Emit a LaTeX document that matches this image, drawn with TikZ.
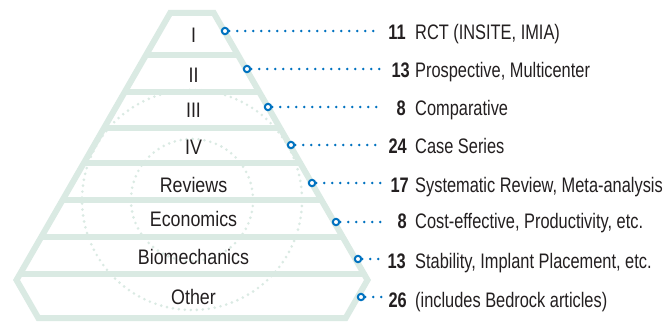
\documentclass[tikz,border=0pt]{standalone}
\usepackage{fontspec}
\newfontfamily\tierfont{Liberation Sans}[FakeStretch=0.85]
\newfontfamily\notefont{Liberation Sans}[FakeStretch=0.78]
\usetikzlibrary{calc}
\definecolor{band}{RGB}{218,234,227}
\definecolor{linkblue}{RGB}{0,114,192}
\definecolor{ink}{RGB}{35,31,32}

\begin{document}
\begin{tikzpicture}[x=1pt,y=-1pt,
  tierlabel/.style={anchor=base, font=\tierfont\fontsize{21}{24}\selectfont, text=ink, inner sep=0pt},
  count/.style={anchor=base east, font=\notefont\bfseries\fontsize{21}{24}\selectfont, text=ink, inner sep=0pt},
  note/.style={anchor=base west, font=\notefont\fontsize{21}{24}\selectfont, text=ink, inner sep=0pt},
  link/.style={draw=linkblue, line width=2.6pt, line cap=round, dash pattern=on 0pt off 8pt},
  ring/.style={circle, draw=linkblue, fill=white, line width=2pt, minimum size=6.4pt, inner sep=0pt},
  ringdots/.style={draw=band, line width=2.9pt, line cap=round, dash pattern=on 0pt off 6pt},
  rim/.style={draw=band, line width=6pt, line join=miter},
  divider/.style={draw=band, line width=6pt}
]
\useasboundingbox[fill=white] (0,0) rectangle (671,321);

% centre line of the pyramid rim
\coordinate (TL) at (170.2,13);
\coordinate (TR) at (213.8,13);
\coordinate (R)  at (367.5,280);
\coordinate (BR) at (345.7,318);
\coordinate (BL) at (38.3,318);
\coordinate (L)  at (16.5,280);

% dotted rings behind the tiers
\coordinate (hub) at (192,200);
\draw[ringdots] (hub) circle[radius=61];
\draw[ringdots] (hub) circle[radius=110];

% tier separators
\begin{scope}
  \clip (TL) -- (TR) -- (R) -- (BR) -- (BL) -- (L) -- cycle;
  \foreach \yy in {55,92,128,163,200,236.5,273.5}
    \draw[divider] (0,\yy) -- (400,\yy);
\end{scope}

% rim
\draw[rim] (TL) -- (TR) -- (R) -- (BR) -- (BL) -- (L) -- cycle;

% tier names
\node[tierlabel] (tI)    at (193.5,43)    {I};
\node[tierlabel] (tII)   at (193.5,82)    {II};
\node[tierlabel] (tIII)  at (193.5,117)   {III};
\node[tierlabel] (tIV)   at (193.5,154)   {IV};
\node[tierlabel] (tRev)  at (193.5,192.5) {Reviews};
\node[tierlabel] (tEco)  at (193.5,226)   {Economics};
\node[tierlabel] (tBio)  at (193.5,264)   {Biomechanics};
\node[tierlabel] (tOth)  at (193.5,304)   {Other};

% markers on the rim
\node[ring] (mI)   at (225,31)  {};
\node[ring] (mII)  at (247,69)  {};
\node[ring] (mIII) at (268,107) {};
\node[ring] (mIV)  at (291,145) {};
\node[ring] (mRev) at (312,183) {};
\node[ring] (mEco) at (336,222) {};
\node[ring] (mBio) at (358,259) {};
\node[ring] (mOth) at (361,297) {};

% ends of the leader lines
\coordinate (eI)   at (380,31);
\coordinate (eII)  at (383,69);
\coordinate (eIII) at (383,107);
\coordinate (eIV)  at (380,145);
\coordinate (eRev) at (383,183);
\coordinate (eEco) at (382,222);
\coordinate (eBio) at (383,259);
\coordinate (eOth) at (383,297);

\foreach \k in {I,II,III,IV,Rev,Eco,Bio,Oth}
  \draw[link] (m\k.east) -- (e\k);

% counts and descriptions
\node[count] (cI)   at (406,39.5) {11};
\node[count] (cII)  at (410,77)   {13};
\node[count] (cIII) at (406,115)  {8};
\node[count] (cIV)  at (407,153)  {24};
\node[count] (cRev) at (409,192)  {17};
\node[count] (cEco) at (407,228)  {8};
\node[count] (cBio) at (406,268)  {13};
\node[count] (cOth) at (407,307)  {26};

\node[note] (dI)   at (415,39.5) {RCT (INSITE, IMIA)};
\node[note] (dII)  at (415,77)   {Prospective, Multicenter};
\node[note] (dIII) at (415,115)  {Comparative};
\node[note] (dIV)  at (415,153)  {Case Series};
\node[note] (dRev) at (415,192)  {Systematic Review, Meta-analysis};
\node[note] (dEco) at (415,228)  {Cost-effective, Productivity, etc.};
\node[note] (dBio) at (415,268)  {Stability, Implant Placement, etc.};
\node[note] (dOth) at (415,307)  {(includes Bedrock articles)};
\end{tikzpicture}
\end{document}
